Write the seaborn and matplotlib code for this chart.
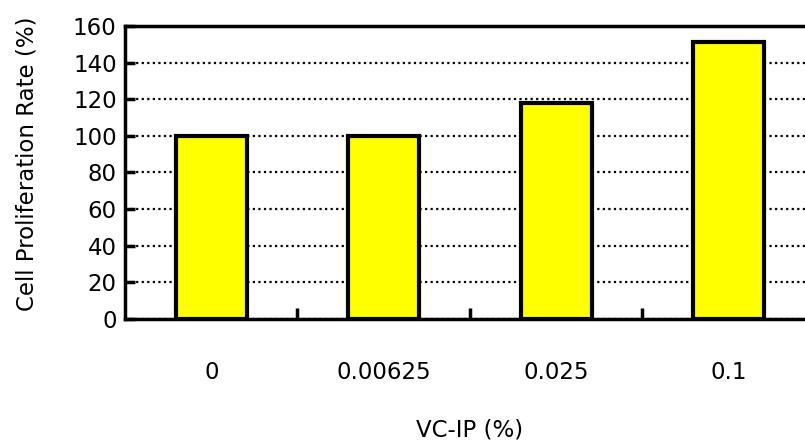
import matplotlib
matplotlib.use("Agg")
import matplotlib.pyplot as plt
import seaborn as sns
import pandas as pd

# Data
concentrations = ["0", "0.00625", "0.025", "0.1"]
proliferation = [100, 100, 118, 151]

df = pd.DataFrame({"VC-IP": concentrations, "Rate": proliferation})

sns.set_style("white")
plt.rcParams['font.family'] = ['DejaVu Sans']
plt.rcParams['text.color'] = 'black'
plt.rcParams['axes.labelcolor'] = 'black'
plt.rcParams['xtick.color'] = 'black'
plt.rcParams['ytick.color'] = 'black'

FS = 16.5

fig = plt.figure(figsize=(8.05, 4.44), dpi=100)
ax = fig.add_axes([0.1553, 0.2815, 0.857, 0.66])

sns.barplot(data=df, x="VC-IP", y="Rate", ax=ax, color="#ffff00",
            edgecolor="black", linewidth=3, width=0.41, saturation=1, zorder=3)

ax.set_ylim(0, 160)
ax.set_xlim(-0.5, 3.5)
ax.set_yticks(range(0, 161, 20))
ax.yaxis.grid(True, linestyle=(0, (1, 1.5)), color="black", linewidth=1.6, zorder=0)
ax.set_axisbelow(True)

for side in ["top", "left", "bottom"]:
    ax.spines[side].set_linewidth(2.5)
    ax.spines[side].set_color("black")
ax.spines["right"].set_visible(False)

ax.tick_params(axis="y", left=True, direction="in", length=7, width=2.5,
               labelsize=FS, pad=6)
ax.tick_params(axis="x", which="major", length=0, labelsize=FS, pad=30)
ax.set_xticks([0.5, 1.5, 2.5], minor=True)
ax.tick_params(axis="x", which="minor", bottom=True, direction="in", length=8, width=2.5)

ax.set_xlabel("VC-IP (%)", fontsize=FS, labelpad=25)
ax.set_ylabel("Cell Proliferation Rate (%)", fontsize=FS, labelpad=22)
ax.yaxis.set_label_coords(-0.125, 0.53)

fig.savefig("out.png", dpi=100)
